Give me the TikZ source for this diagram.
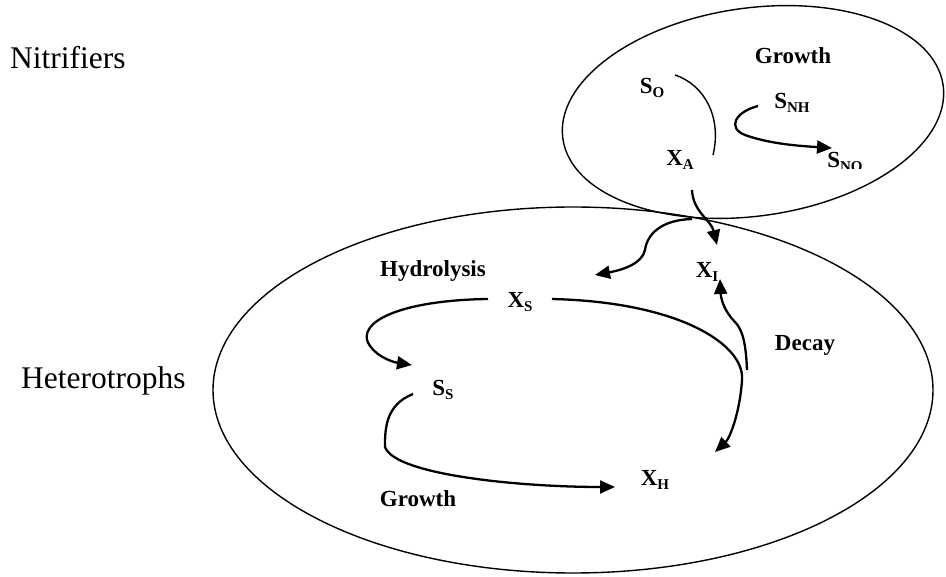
\documentclass[tikz,border=0pt]{standalone}
\usepackage{fontspec}
\setmainfont{Liberation Serif}
\usetikzlibrary{arrows.meta}
\newcommand\symb[2]{#1\raisebox{-4pt}{\fontsize{15}{15}\selectfont #2}}
\begin{document}
\begin{tikzpicture}[x=1pt,y=-1pt,
  lbl/.style={inner sep=0pt, font=\fontsize{23}{23}\selectfont\bfseries},
  group/.style={inner sep=0pt, anchor=west, font=\fontsize{31.5}{31.5}\selectfont},
  flow/.style={line width=2.3pt, -{Triangle[length=15pt,width=13pt]}},
  link/.style={line width=1.4pt},
  boundary/.style={line width=1.4pt}]
\useasboundingbox (0,0) rectangle (946,577);

% group boundaries
\draw[boundary] (573,390) ellipse [x radius=360pt, y radius=183pt];
\draw[boundary, rotate around={8:(753,112)}] (753,112) ellipse [x radius=192pt, y radius=104pt];

% group names
\node[group] (nit) at (10,58) {Nitrifiers};
\node[group] (het) at (21,381) {Heterotrophs};

% nitrifier labels
\node[lbl] (grA) at (793,56) {Growth};
\node[lbl] (SO) at (652,88) {\symb{S}{O}};
\node[lbl] (SNH) at (792,103) {\symb{S}{NH}};
\begin{scope}
  \clip (800,140) rectangle (890,169);
  \node[lbl] (SNO) at (845,162) {\symb{S}{NO}};
\end{scope}
\node[lbl] (XA) at (680,160) {\symb{X}{A}};

% heterotroph labels
\node[lbl] (hyd) at (433,271) {Hydrolysis};
\node[lbl] (XI) at (707,272) {\symb{X}{I}};
\node[lbl] (XS) at (520,302) {\symb{X}{S}};
\node[lbl] (dec) at (805,345) {Decay};
\node[lbl] (SS) at (443,390) {\symb{S}{S}};
\node[lbl] (XH) at (655,480) {\symb{X}{H}};
\node[lbl] (grH) at (418,499) {Growth};

% connector end points
\coordinate (so1) at (675,75);
\coordinate (xa1) at (713,155);
\coordinate (snh1) at (758,106);
\coordinate (sno1) at (832,148);
\coordinate (xa2) at (692,190);
\coordinate (xi1) at (717,245);
\coordinate (xa3) at (692,219);
\coordinate (hyd1) at (595,275);
\coordinate (xs1) at (488,299);
\coordinate (ss1) at (412,365);
\coordinate (xs2) at (552,299);
\coordinate (xh1) at (715,452);
\coordinate (dec1) at (747,370);
\coordinate (xi2) at (720,279);
\coordinate (ss2) at (413,394);
\coordinate (xh2) at (615,487);

% connectors
\draw[link] (so1) .. controls (705,85) and (722,118) .. (xa1);
\draw[flow] (snh1) .. controls (735,112) and (727,128) .. (745,135)
            .. controls (770,144) and (800,146) .. (sno1);
\draw[flow] (xa2) .. controls (693,212) and (711,220) .. (xi1);
\draw[flow] (xa3) .. controls (660,220) and (647,235) .. (645,250)
            .. controls (642,264) and (622,270) .. (hyd1);
\draw[flow] (xs1) .. controls (410,300) and (362,318) .. (367,340)
            .. controls (372,355) and (392,362) .. (ss1);
\draw[flow] (xs2) .. controls (680,302) and (745,345) .. (742,380)
            .. controls (740,412) and (730,438) .. (xh1);
\draw[flow] (dec1) .. controls (746,345) and (743,330) .. (735,322)
            .. controls (725,312) and (721,300) .. (xi2);
\draw[flow] (ss2) .. controls (385,405) and (385,430) .. (385,447)
            .. controls (395,475) and (520,487) .. (xh2);
\end{tikzpicture}
\end{document}
